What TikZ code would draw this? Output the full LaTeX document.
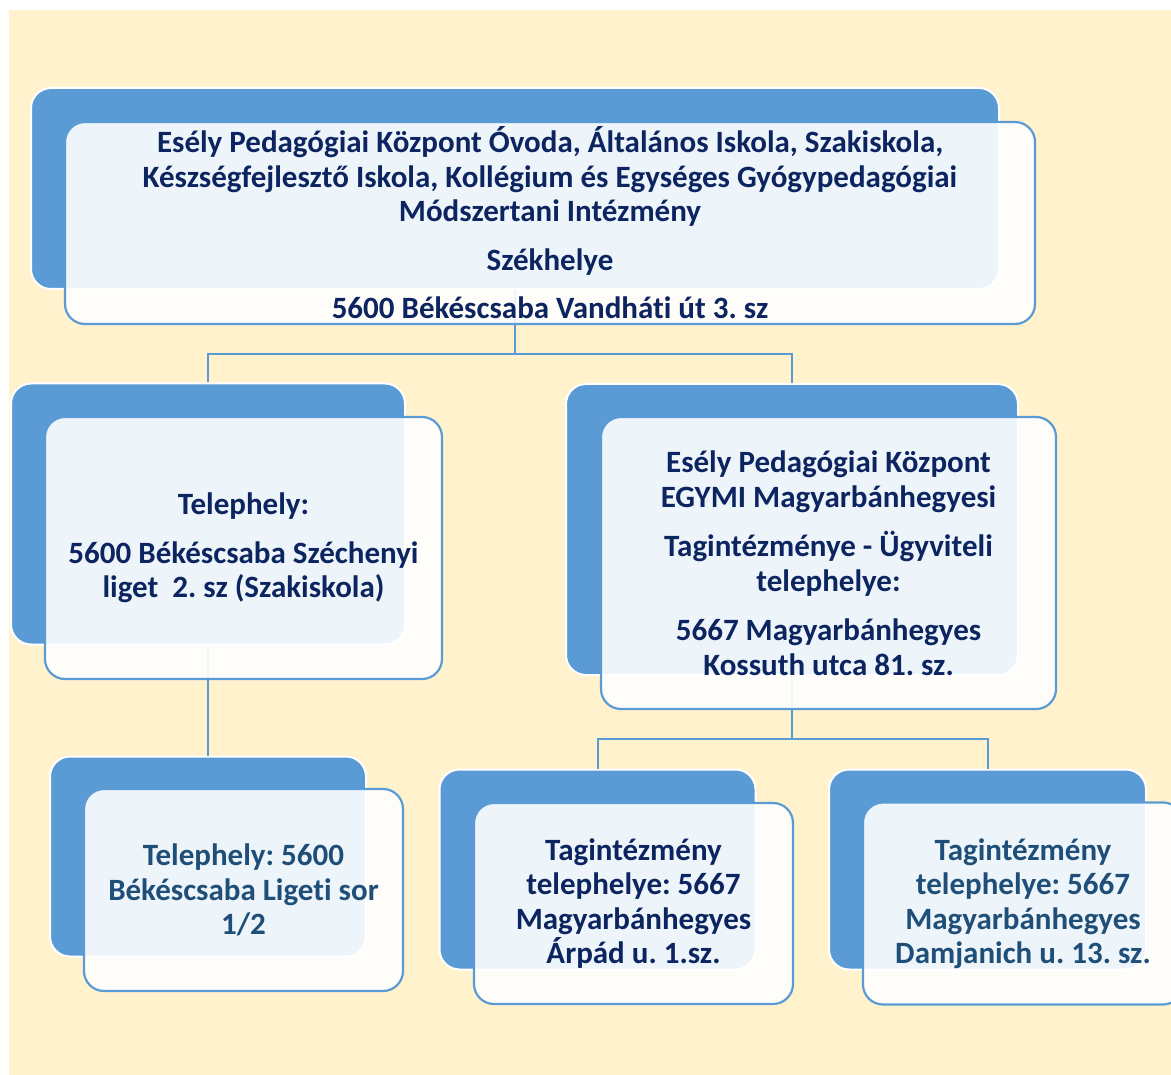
\documentclass[tikz,border=0pt]{standalone}
\usepackage{fontspec}
\setmainfont{Carlito}[RawFeature={-liga;-clig;-calt;-dlig}]
\usepackage{xcolor}
\usetikzlibrary{positioning}
\definecolor{cream}{HTML}{FFF2CC}
\definecolor{boxblue}{HTML}{5B9BD5}
\definecolor{navy}{HTML}{0C2460}
\definecolor{steel}{HTML}{1F4E79}
\frenchspacing

\begin{document}
\begin{tikzpicture}[x=1pt,y=-1pt,font=\fontsize{31}{34.5}\selectfont\bfseries,
 back/.style 2 args={draw=white,line width=2pt,fill=boxblue,rounded corners=20pt,inner sep=0pt,minimum width=#1,minimum height=#2},
 front/.style 2 args={draw=boxblue,line width=2.2pt,fill=white,fill opacity=0.9,text opacity=1,rounded corners=20pt,inner sep=0pt,align=center,text=navy,minimum width=#1,minimum height=#2},
 link/.style={draw=boxblue,line width=2pt}]
\useasboundingbox (0,0) rectangle (1171,1075);
\fill[white] (0,0) rectangle (1171,1075);
\fill[cream] (9,10) rectangle (1171,1075);
% back boxes
\node[back={968pt}{201pt}] (topb) at (515,188.5) {};
\node[back={394pt}{261pt}] (lmb) at (208,514) {};
\node[back={452pt}{291pt}] (rmb) at (792,529.5) {};
\node[back={316pt}{200pt}] (blb) at (208,856.5) {};
\node[back={316pt}{200pt}] (bmb) at (597.5,869.5) {};
\node[back={317pt}{200pt}] (brb) at (987.5,869.5) {};
% connectors
\draw[link] (topb.south) -- ++(0,64) -| (lmb.north);
\draw[link] (topb.south) -- ++(0,64) -| (rmb.north);
\draw[link] (lmb.south) -- (blb.north);
\draw[link] (rmb.south) -- ++(0,63) -| (bmb.north);
\draw[link] (rmb.south) -- ++(0,63) -| (brb.north);
% front boxes
\node[front={970pt}{202pt}] (topf) at ([shift={(35,34.5)}]topb.center)
 {Esély Pedagógiai Központ Óvoda, Általános Iskola, Szakiskola,\\
  Készségfejlesztő Iskola, Kollégium és Egységes Gyógypedagógiai\\
  Módszertani Intézmény\\[14pt]
  Székhelye\\[14pt]
  5600 Békéscsaba Vandháti út 3. sz};
\node[front={397pt}{262pt}] (lmf) at ([shift={(35.5,34)}]lmb.center)
 {Telephely:\\[14pt]
  5600 Békéscsaba Széchenyi\\
  liget~~2. sz (Szakiskola)};
\node[front={455pt}{292pt}] (rmf) at ([shift={(36.5,33.5)}]rmb.center)
 {Esély Pedagógiai Központ\\
  EGYMI Magyarbánhegyesi\\[15pt]
  Tagintézménye - Ügyviteli\\
  telephelye:\\[15pt]
  5667 Magyarbánhegyes\\
  Kossuth utca 81. sz.};
\node[front={319pt}{202pt},text=steel] (blf) at ([shift={(35.5,33.5)}]blb.center)
 {Telephely: 5600\\
  Békéscsaba Ligeti sor\\
  1/2};
\node[front={319pt}{201pt}] (bmf) at ([shift={(36,34)}]bmb.center)
 {Tagintézmény\\
  telephelye: 5667\\
  Magyarbánhegyes\\
  Árpád u. 1.sz.};
\node[front={320pt}{202pt},text=steel] (brf) at ([shift={(35.5,34)}]brb.center)
 {Tagintézmény\\
  telephelye: 5667\\
  Magyarbánhegyes\\
  Damjanich u. 13. sz.};
\end{tikzpicture}
\end{document}
